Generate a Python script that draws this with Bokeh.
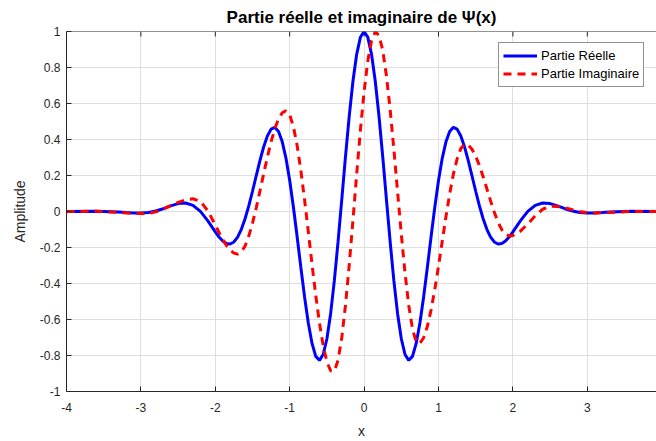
from bokeh.plotting import figure
from bokeh.models import Range1d, FixedTicker, Legend, LegendItem, Span
from bokeh.embed import file_html
from bokeh.resources import INLINE

# ---- data ----
x_vals = [-4.0, -3.6, -3.4, -3.3, -3.2, -3.1, -3.0, -2.9, -2.8, -2.7, -2.6, -2.5,
          -2.4, -2.3, -2.2, -2.1, -2.0, -1.95, -1.9, -1.85, -1.8, -1.75, -1.7,
          -1.65, -1.6,
          -1.55, -1.5, -1.45, -1.4, -1.35, -1.3, -1.25, -1.2, -1.15, -1.1, -1.05,
          -1.0, -0.95, -0.9, -0.85, -0.8, -0.75, -0.7, -0.65, -0.6, -0.55, -0.5,
          -0.45, -0.4, -0.35, -0.3, -0.25, -0.2, -0.15, -0.1, -0.05, 0.0,
          0.05, 0.1, 0.15, 0.2, 0.25, 0.3, 0.35, 0.4, 0.45, 0.5, 0.55, 0.6,
          0.65, 0.7, 0.75, 0.8, 0.85, 0.9, 0.95, 1.0, 1.05, 1.1, 1.15, 1.2,
          1.25, 1.3, 1.35, 1.4, 1.45, 1.5, 1.55,
          1.6, 1.65, 1.7, 1.75, 1.8, 1.85, 1.9, 1.95, 2.0, 2.1, 2.2, 2.3, 2.4,
          2.5, 2.6, 2.7, 2.8, 2.9, 3.0, 3.1, 3.2, 3.3, 3.4, 3.6, 4.0]

real_part = [0.0, 0.001, -0.0009, -0.0030, -0.0057, -0.0080, -0.0084, -0.0053, 0.0027,
             0.0155, 0.0309, 0.0438, 0.0474, 0.0343, 0.0004, -0.0524, -0.1136, -0.1417,
             -0.1640, -0.1780, -0.1803, -0.1692, -0.1419, -0.0989, -0.0404,
             0.0312, 0.1125, 0.1985, 0.2829, 0.3590, 0.4195, 0.4577, 0.4674, 0.4445,
             0.3870, 0.2952, 0.1721, 0.0239, -0.1406, -0.3108, -0.4746, -0.6194,
             -0.7330, -0.8048, -0.8269, -0.7945, -0.7070, -0.5677, -0.3841, -0.1676,
             0.0676, 0.3056, 0.5296, 0.7235, 0.8732, 0.9677, 1.0,
             0.9677, 0.8732, 0.7235, 0.5296, 0.3056, 0.0676, -0.1676, -0.3841,
             -0.5677, -0.7070, -0.7945, -0.8269, -0.8048, -0.7330, -0.6194, -0.4746,
             -0.3108, -0.1406, 0.0239, 0.1721, 0.2952, 0.3870, 0.4445, 0.4674,
             0.4577, 0.4195, 0.3590, 0.2829, 0.1985, 0.1125, 0.0312,
             -0.0404, -0.0989, -0.1419, -0.1692, -0.1803, -0.1780, -0.1640, -0.1417,
             -0.1136, -0.0524, 0.0004, 0.0343, 0.0474, 0.0438, 0.0309, 0.0155, 0.0027,
             -0.0053, -0.0084, -0.0080, -0.0057, -0.0030, -0.0009, 0.001, 0.0]

imag_part = [0.0, 0.001, -0.003, -0.005, -0.008, -0.010, -0.0115, -0.0109, -0.0022,
             0.0134, 0.0324, 0.0508, 0.0646, 0.0708, 0.0568, 0.0034, -0.0747, -0.1161,
             -0.1551, -0.1891, -0.215, -0.2314, -0.237, -0.2254, -0.1914,
             -0.1368, -0.0649, 0.0202, 0.1135, 0.2095, 0.3028, 0.3879, 0.4598, 0.5144,
             0.5484, 0.56, 0.5376, 0.4715, 0.3661, 0.2275, 0.0647, -0.1122, -0.2926,
             -0.4655, -0.6195, -0.7456, -0.8359, -0.8849, -0.8874, -0.8258, -0.7000,
             -0.5192, -0.2973, -0.0488, 0.2066, 0.4509, 0.6665,
             0.8369, 0.9503, 0.9986, 0.979, 0.8955, 0.7544, 0.5663, 0.3455, 0.1085,
             -0.1265, -0.3419, -0.5210, -0.6517, -0.7232, -0.7322, -0.7015, -0.6385,
             -0.5472, -0.4332, -0.3035, -0.1662, -0.0297, 0.0975, 0.2083, 0.2919,
             0.3504, 0.3743, 0.3692, 0.3462, 0.3072, 0.2549,
             0.1932, 0.1263, 0.0588, -0.0043, -0.0585, -0.1009, -0.1270, -0.136,
             -0.1329, -0.1092, -0.0689, -0.0239, 0.0125, 0.0295, 0.0281, 0.0208,
             0.0105, 0.0003, -0.0065, -0.008, -0.007, -0.005, -0.003, 0.0, 0.0]

x_ticks = [-4, -3, -2, -1, 0, 1, 2, 3]
x_tick_labels = ["-4", "-3", "-2", "-1", "0", "1", "2", "3"]
y_ticks = [-1.0, -0.8, -0.6, -0.4, -0.2, 0.0, 0.2, 0.4, 0.6, 0.8, 1.0]
y_tick_labels = ["-1", "-0.8", "-0.6", "-0.4", "-0.2", "0", "0.2", "0.4", "0.6", "0.8", "1"]

series_labels = ["Partie Réelle", "Partie Imaginaire"]
title_text = "Partie réelle et imaginaire de Ψ(x)"

FONT = "Liberation Sans"
INK = "#262626"
Y_START, Y_END = -1.0, 1.0
FRAME_H = 361  # px
TICK_LEN = 5   # px

p = figure(width=656, height=441, output_backend="svg", toolbar_location=None,
           x_range=Range1d(-4, 3.93), y_range=Range1d(Y_START, Y_END),
           min_border_left=66, min_border_right=0, min_border_top=30,
           min_border_bottom=50, x_axis_label="x", y_axis_label="Amplitude")

p.title.text = title_text
p.title.align = "center"
p.title.text_font = FONT
p.title.text_font_size = "17px"
p.title.text_font_style = "bold"
p.title.text_color = "#000000"
p.title.standoff = 10

p.outline_line_color = None
p.background_fill_color = "white"

p.xaxis.ticker = FixedTicker(ticks=x_ticks)
p.yaxis.ticker = FixedTicker(ticks=y_ticks)
p.xaxis.major_label_overrides = dict(zip(x_ticks, x_tick_labels))
p.yaxis.major_label_overrides = dict(zip(y_ticks, y_tick_labels))
p.xgrid.ticker = FixedTicker(ticks=x_ticks)
p.ygrid.ticker = FixedTicker(ticks=y_ticks)
for g in (p.xgrid, p.ygrid):
    g.grid_line_color = "#dfdfdf"
    g.grid_line_width = 1

for ax in (p.xaxis[0], p.yaxis[0]):
    ax.major_tick_in = TICK_LEN
    ax.major_tick_out = 0
    ax.minor_tick_in = 0
    ax.minor_tick_out = 0
    ax.axis_line_color = INK
    ax.major_tick_line_color = INK
    ax.major_label_text_font = FONT
    ax.major_label_text_font_size = "12px"
    ax.major_label_text_color = INK
    ax.axis_label_text_font = FONT
    ax.axis_label_text_font_size = "14px"
    ax.axis_label_text_font_style = "normal"
    ax.axis_label_text_color = INK

p.xaxis.major_label_standoff = 11
p.xaxis.axis_label_standoff = 8
p.yaxis.major_label_standoff = 6
p.yaxis.axis_label_standoff = 9

# top border of the box and its inward ticks
p.add_layout(Span(location=Y_END, dimension="width", line_color=INK, line_width=1))
tick_depth = TICK_LEN * (Y_END - Y_START) / FRAME_H
p.segment(x0=x_ticks, y0=[Y_END] * len(x_ticks), x1=x_ticks,
          y1=[Y_END - tick_depth] * len(x_ticks), line_color=INK, line_width=1)

r1 = p.line(x_vals, real_part, line_color="#0000ff", line_width=3)
r2 = p.line(x_vals, imag_part, line_color="#ff0000", line_width=3, line_dash="8 6")

legend = Legend(items=[LegendItem(label=series_labels[0], renderers=[r1]),
                       LegendItem(label=series_labels[1], renderers=[r2])],
                location=(432, 304), padding=4, spacing=1, label_standoff=4,
                glyph_width=34, glyph_height=17, label_height=17,
                label_text_font=FONT, label_text_font_size="13px",
                label_text_color="#000000", border_line_color=INK,
                border_line_width=1, background_fill_color="white",
                background_fill_alpha=1.0, margin=0)
p.add_layout(legend)

open("out.html", "w").write(file_html(p, INLINE))
